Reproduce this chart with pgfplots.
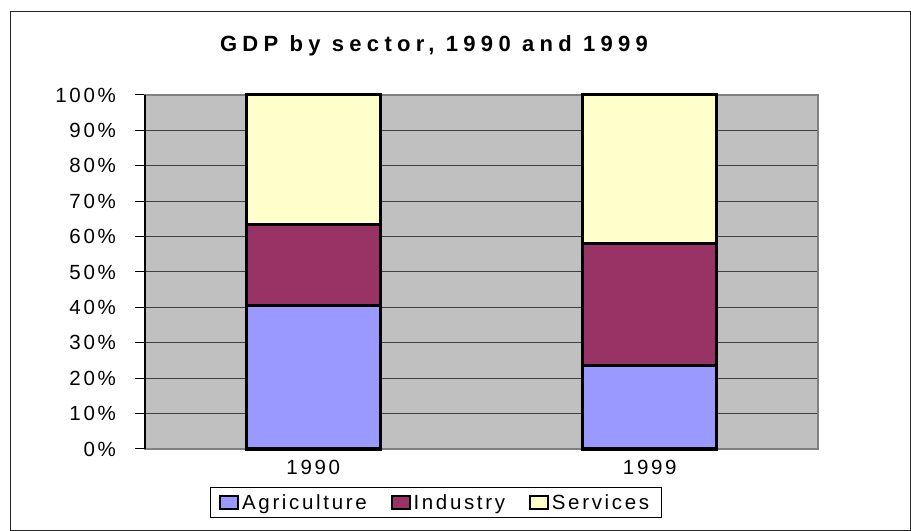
\documentclass[border=0pt]{standalone}
\usepackage{pgfplots}
\pgfplotsset{compat=1.18}
\usepackage{fontspec}
\setmainfont{Liberation Sans}[LetterSpace=13]
\newfontfamily\titlefont{Liberation Sans}[LetterSpace=24]
\definecolor{agri}{HTML}{9999FF}
\definecolor{ind}{HTML}{993366}
\definecolor{serv}{HTML}{FFFFCC}
\definecolor{plotbg}{HTML}{C0C0C0}
\definecolor{boxgray}{HTML}{808080}
\begin{document}
\begin{tikzpicture}
\path[use as bounding box] (0,0) rectangle (911bp,531bp);
\draw[line width=1bp, black!85] (10.5bp,0.5bp) rectangle (910.5bp,519bp);
\node[font=\titlefont\bfseries\fontsize{22bp}{26bp}\selectfont, anchor=base, inner sep=0pt] at (434bp,479bp) {GDP by sector, 1990 and 1999};
\begin{axis}[
  at={(145bp,82bp)}, anchor=south west,
  scale only axis, width=673bp, height=354bp,
  clip=false,
  ybar stacked, bar width=134bp,
  every axis plot/.append style={line width=3bp},
  xmin=-0.5, xmax=1.5, ymin=0, ymax=100,
  xtick={0,1}, xticklabels={1990,1999},
  ytick={0,10,...,100},
  yticklabels={0\%,10\%,20\%,30\%,40\%,50\%,60\%,70\%,80\%,90\%,100\%},
  axis background/.style={fill=plotbg},
  axis line style={draw=boxgray, line width=1.5bp},
  ymajorgrids, major grid style={draw=black!75, line width=1bp},
  tick align=outside, major tick length=10bp,
  ytick style={draw=black, line width=1bp},
  xtick style={draw=none},
  ytick pos=left,
  tick label style={font=\fontsize{20.5bp}{24bp}\selectfont},
  yticklabel style={anchor=east, inner sep=0pt, xshift=-19bp},
  xticklabel style={anchor=north, inner sep=0pt, yshift=-1bp},
  legend columns=3,
  legend style={at={(0.432,-0.107)}, anchor=north, draw=black, line width=0.8bp,
    font=\fontsize{20.5bp}{24bp}\selectfont, inner xsep=9bp, inner ysep=3bp,
    nodes={inner xsep=3bp, inner ysep=4bp},
    /tikz/every even column/.append style={column sep=21bp}},
  legend image code/.code={\draw[#1, draw=black, line width=1.8bp] (0bp,-6.3bp) rectangle (18bp,6.3bp);},
]
\addplot[fill=agri, draw=black] coordinates {(0,40.5) (1,23.6)};
\addplot[fill=ind, draw=black] coordinates {(0,22.8) (1,34.5)};
\addplot[fill=serv, draw=black] coordinates {(0,36.7) (1,41.9)};
\legend{Agriculture,Industry,Services}
\draw[black, line width=1.5bp] (rel axis cs:0,0) -- (rel axis cs:0,1);
\end{axis}
\end{tikzpicture}
\end{document}
